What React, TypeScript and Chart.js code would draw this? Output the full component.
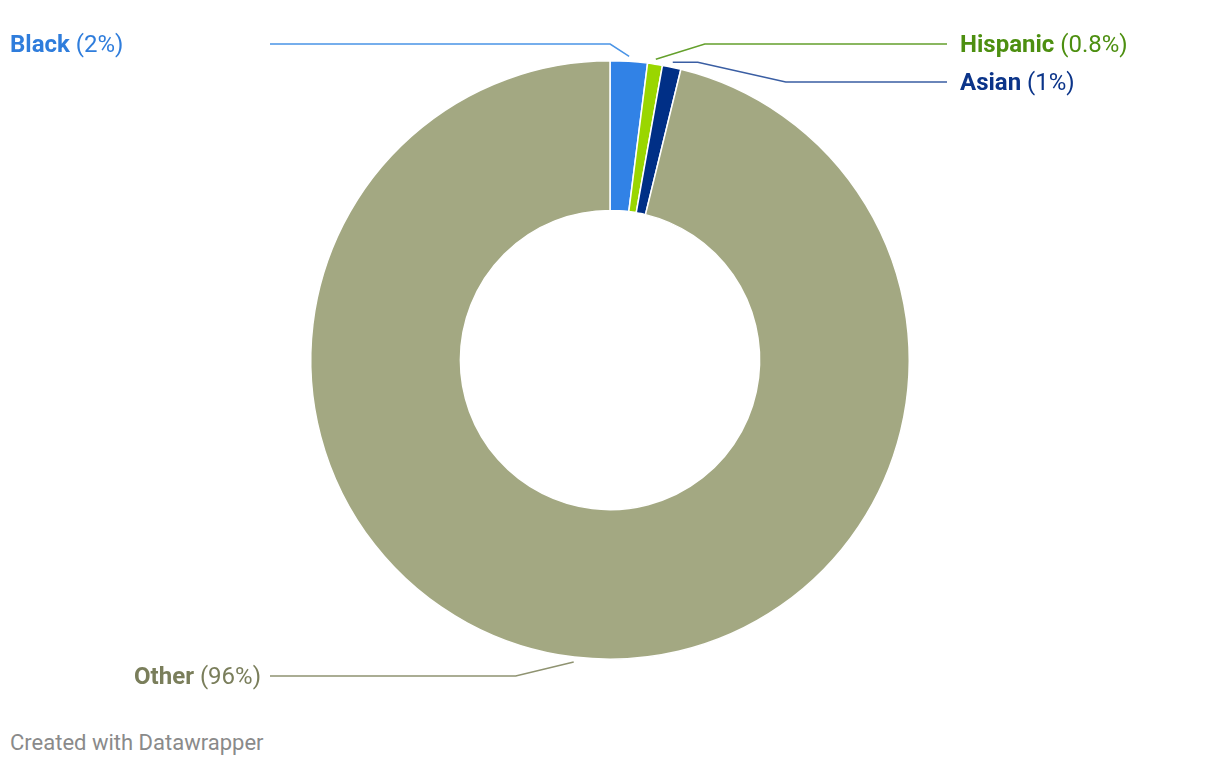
import React, { useEffect, useRef } from "react";
import { Chart, registerables } from "chart.js";

Chart.register(...registerables);

const categories = ["Black", "Hispanic", "Asian", "Other"];
const values = [2, 0.8, 1, 96];
const valueLabels = ["2%", "0.8%", "1%", "96%"];
const sliceColors = ["#3182e6", "#9ad600", "#002f86", "#a3a882"];
const textColors = ["#2f7ddc", "#4d8f10", "#0b3489", "#7a7e5b"];
const lineColors = ["#4a94e6", "#64a02c", "#3a5ea3", "#8f9371"];

// layout of the labels (page pixels)
const labelLayout = [
  { y: 44, textX: 10, align: "left", lineEnd: 270, elbow: -19, pre: 0 },
  { y: 44, textX: 960, align: "left", lineEnd: 947, elbow: 49, pre: 0 },
  { y: 82, textX: 960, align: "left", lineEnd: 947, elbow: 88, pre: 25 },
  { y: 676, textX: 261, align: "right", lineEnd: 270, elbow: -58, pre: 0 },
];

const FONT = "Roboto, sans-serif";
const FS = 24;

const leaderPlugin = {
  id: "leaders",
  afterDraw(chart: any) {
    const ctx = chart.ctx;
    const meta = chart.getDatasetMeta(0);
    const off = 8; // canvas offset from page
    meta.data.forEach((arc: any, i: number) => {
      const p = arc.getProps(["x", "y", "startAngle", "endAngle", "outerRadius"], true);
      const mid = (p.startAngle + p.endAngle) / 2;
      const r = p.outerRadius + 5;
      const ax = p.x + Math.cos(mid) * r;
      const ay = p.y + Math.sin(mid) * r;
      const L = labelLayout[i];
      const ly = L.y - off;
      ctx.save();
      ctx.strokeStyle = lineColors[i];
      ctx.lineWidth = 1.5;
      ctx.beginPath();
      let sx = ax;
      ctx.moveTo(ax, ay);
      if (L.pre) {
        sx = ax + L.pre;
        ctx.lineTo(sx, ay);
      }
      ctx.lineTo(sx + L.elbow, ly);
      ctx.lineTo(L.lineEnd - off, ly);
      ctx.stroke();

      ctx.textBaseline = "middle";
      ctx.fillStyle = textColors[i];
      const bold = `bold ${FS}px ${FONT}`;
      const norm = `${FS}px ${FONT}`;
      const name = categories[i];
      const val = ` (${valueLabels[i]})`;
      ctx.font = bold;
      const wName = ctx.measureText(name).width;
      ctx.font = norm;
      const wVal = ctx.measureText(val).width;
      let x0 = L.textX - off;
      if (L.align === "right") x0 = x0 - wName - wVal;
      ctx.textAlign = "left";
      ctx.font = bold;
      ctx.fillText(name, x0, ly + 2);
      ctx.font = norm;
      ctx.fillText(val, x0 + wName, ly + 2);
      ctx.restore();
    });
  },
};

export default function App() {
  const ref = useRef<HTMLCanvasElement>(null);
  useEffect(() => {
    if (!ref.current) return;
    const chart = new Chart(ref.current, {
      type: "doughnut",
      data: {
        labels: categories,
        datasets: [
          {
            data: values,
            backgroundColor: sliceColors,
            borderColor: "#ffffff",
            borderWidth: 1.5,
          },
        ],
      },
      options: {
        animation: false,
        responsive: false,
        cutout: "50%",
        layout: { padding: { top: 52, bottom: 48, left: 0, right: 0 } },
        plugins: { legend: { display: false }, tooltip: { enabled: false } },
      },
      plugins: [leaderPlugin],
    });
    return () => chart.destroy();
  }, []);
  return (
    <div style={{ position: "relative", width: 1204, height: 750 }}>
      <canvas ref={ref} width={1204} height={700} style={{ display: "block" }} />
      <div
        style={{
          position: "absolute",
          left: 2,
          top: 720,
          fontFamily: FONT,
          fontSize: 22,
          color: "#8a8a8a",
          lineHeight: "30px",
        }}
      >
        Created with Datawrapper
      </div>
    </div>
  );
}
